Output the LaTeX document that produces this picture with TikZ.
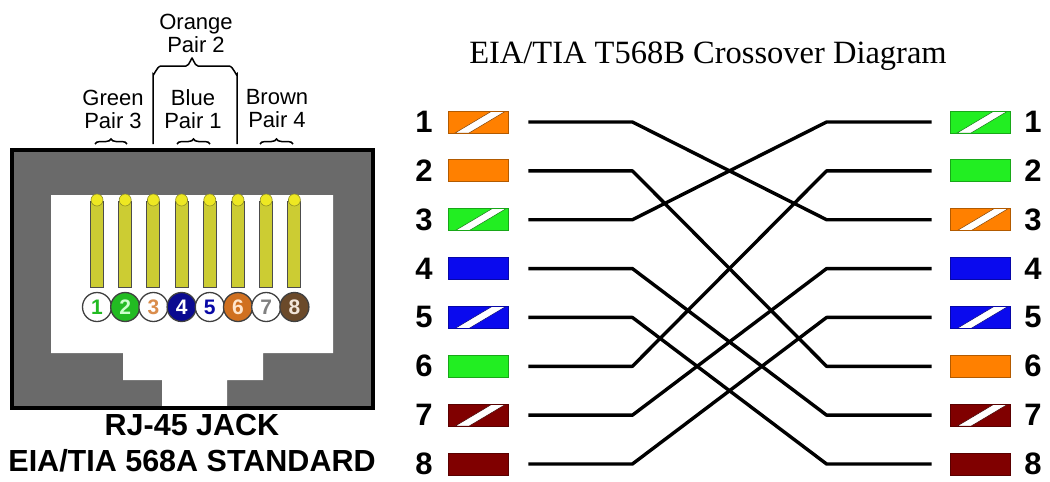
\documentclass[tikz,border=0pt]{standalone}
\usepackage{fontspec}
\setmainfont{Liberation Sans}
\newfontfamily\serifttl{Liberation Serif}
\usetikzlibrary{calc,decorations.pathreplacing}
\definecolor{wor}{HTML}{FF8000}
\definecolor{wgr}{HTML}{22EE22}
\definecolor{wbl}{HTML}{0A0AEE}
\definecolor{wbr}{HTML}{800000}
\definecolor{jackgray}{HTML}{6A6A6A}
\definecolor{pinyel}{HTML}{CCCC33}
\definecolor{pintop}{HTML}{EEE822}
\definecolor{cgreen}{HTML}{22BB22}
\definecolor{cnavy}{HTML}{0A0A90}
\definecolor{corange}{HTML}{D07020}
\definecolor{cbrown}{HTML}{6B4A2A}
\tikzset{
  wirebox/.style={draw=#1!70!black, fill=#1, line width=0.8pt, minimum width=60pt, minimum height=22pt, inner sep=0pt},
  stripebox/.style={wirebox=#1, path picture={
      \filldraw[fill=white, draw=#1!50!black, line width=0.5pt]
        ([xshift=7pt]path picture bounding box.south west) --
        ([xshift=21pt]path picture bounding box.south west) --
        ([xshift=-2pt]path picture bounding box.north east) --
        ([xshift=-16pt]path picture bounding box.north east) -- cycle;}},
  pinnum/.style={font=\bfseries\fontsize{31}{31}\selectfont, inner sep=0pt},
  wire/.style={line width=3.4pt, line join=round},
  lbl/.style={font=\fontsize{22}{23}\selectfont, align=center, inner sep=0pt},
  jcirc/.style={circle, draw=black!75, line width=1.3pt, minimum size=29pt, inner sep=0pt, font=\bfseries\fontsize{21}{21}\selectfont},
  pinbar/.style={fill=pinyel, draw=black!70, line width=1pt},
  smallbrace/.style={decorate, decoration={brace, amplitude=5pt}, line width=1.5pt}
}
\begin{document}
\begin{tikzpicture}[x=1pt,y=-1pt]
\useasboundingbox (0,0) rectangle (1050,482);

% ---------- RJ-45 jack ----------
\fill[jackgray] (12,150) rectangle (373,408);
\fill[white] (51,195) -- (333,195) -- (333,353) -- (263,353) -- (263,380) -- (227,380)
  -- (227,408) -- (162,408) -- (162,380) -- (123,380) -- (123,353) -- (51,353) -- cycle;
\draw[line width=3.5pt] (12,150) rectangle (373,408);

\foreach \k in {0,...,7} {
  \pgfmathsetmacro\px{97+28.2*\k}
  \draw[pinbar] (\px-6.5,201) rectangle (\px+6.5,287);
  \filldraw[fill=pintop, draw=pinyel!70!black, line width=0.6pt] (\px,200) circle (6);
}

\node[jcirc, fill=white, text=cgreen] (C1) at (97,307) {1};
\node[jcirc, fill=cgreen, text=green!20] (C2) at (125.2,307) {2};
\node[jcirc, fill=white, text=corange!80] (C3) at (153.4,307) {3};
\node[jcirc, fill=cnavy, text=white] (C4) at (181.6,307) {4};
\node[jcirc, fill=white, text=cnavy!80!blue] (C5) at (209.8,307) {5};
\node[jcirc, fill=corange, text=orange!20] (C6) at (238,307) {6};
\node[jcirc, fill=white, text=black!50] (C7) at (266.2,307) {7};
\node[jcirc, fill=cbrown, text=brown!20] (C8) at (294.4,307) {8};

% labels and braces
\node[lbl] (orangelbl) at (196,33) {Orange\\Pair 2};
\node[lbl] (greenlbl) at (113,109) {Green\\Pair 3};
\node[lbl] (bluelbl) at (193,109) {Blue\\Pair 1};
\node[lbl] (brownlbl) at (277,109) {Brown\\Pair 4};

\draw[smallbrace] (95,144) -- (127,144);
\draw[smallbrace] (177,144) -- (210,144);
\draw[smallbrace] (260,144) -- (293,144);
\draw[line width=1.5pt] (153,144) -- (153,74) to[out=-90,in=180] (161,66) -- (186,66)
  to[out=0,in=90] (192,59) to[out=90,in=180] (198,66) -- (229,66)
  to[out=0,in=-90] (237,74) -- (237,144);

\node[font=\bfseries\fontsize{30.5}{36}\selectfont, align=center, inner sep=0pt] (jacklbl) at (192,443) {RJ-45 JACK\\EIA/TIA 568A STANDARD};

% ---------- crossover diagram ----------
\node[font=\serifttl\fontsize{32.5}{32}\selectfont, anchor=base, inner sep=0pt] (title) at (708,63) {EIA/TIA T568B Crossover Diagram};

% left side
\node[stripebox=wor] (L1) at (478,122) {};
\node[wirebox=wor] (L2) at (478,170.86) {};
\node[stripebox=wgr] (L3) at (478,219.72) {};
\node[wirebox=wbl] (L4) at (478,268.58) {};
\node[stripebox=wbl] (L5) at (478,317.44) {};
\node[wirebox=wgr] (L6) at (478,366.3) {};
\node[stripebox=wbr] (L7) at (478,415.16) {};
\node[wirebox=wbr] (L8) at (478,464) {};

% right side
\node[stripebox=wgr] (R1) at (980,122) {};
\node[wirebox=wgr] (R2) at (980,170.86) {};
\node[stripebox=wor] (R3) at (980,219.72) {};
\node[wirebox=wbl] (R4) at (980,268.58) {};
\node[stripebox=wbl] (R5) at (980,317.44) {};
\node[wirebox=wor] (R6) at (980,366.3) {};
\node[stripebox=wbr] (R7) at (980,415.16) {};
\node[wirebox=wbr] (R8) at (980,464) {};

\foreach \i in {1,...,8} {
  \node[pinnum] (LN\i) at ($(L\i)+(-54,0)$) {\i};
  \node[pinnum] (RN\i) at ($(R\i)+(53,0)$) {\i};
  \coordinate (WS\i) at ($(L\i.east)+(20,0)$);
  \coordinate (WE\i) at ($(R\i.west)+(-18,0)$);
}

\foreach \a/\b in {1/3,2/6,3/1,6/2,4/7,5/8,7/4,8/5} {
  \draw[wire] (WS\a) -- ++(104,0) -- ($(WE\b)+(-105,0)$) -- (WE\b);
}
\end{tikzpicture}
\end{document}
